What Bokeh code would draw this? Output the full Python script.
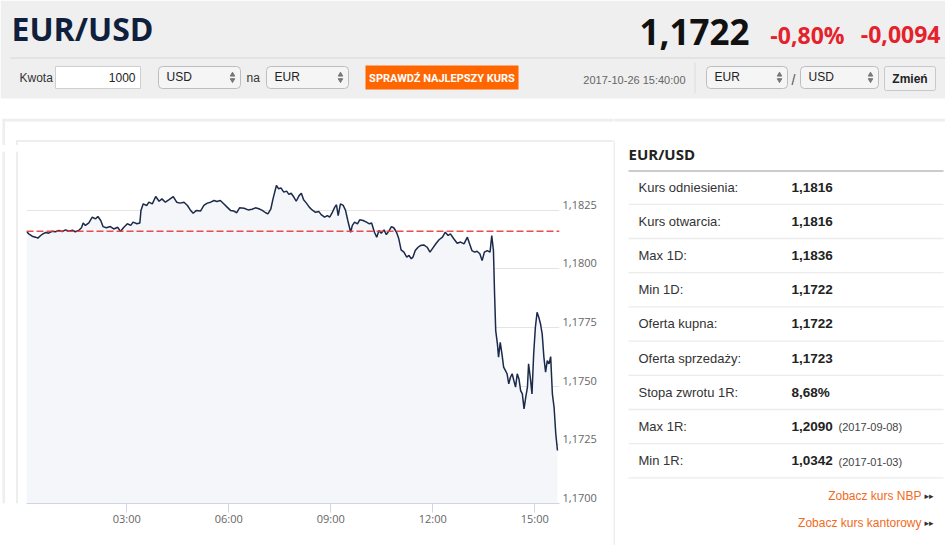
from bokeh.plotting import figure
from bokeh.layouts import column, row
from bokeh.models import Range1d, FixedTicker, CustomJSTickFormatter, Span
from bokeh.core.properties import value
from bokeh.embed import file_html
from bokeh.resources import INLINE

# ---------------- data ----------------
pair = "EUR/USD"
last_rate = "1,1722"
change_pct = "-0,80%"
change_abs = "-0,0094"
timestamp = "2017-10-26 15:40:00"

# intraday series: minutes after midnight, EUR/USD rate
minutes = [3, 7, 13, 19, 23, 28, 32, 37, 42, 48, 54, 60, 66, 72, 78, 84, 89, 95, 100, 103,
           107, 113, 119, 125, 129, 134, 138, 144, 151, 157, 164, 169, 174, 181, 187, 191, 198, 203, 205, 209,
           215, 219, 225, 231, 237, 242, 248, 254, 262, 268, 274, 281, 287, 292, 297, 303, 310, 316, 322, 328,
           334, 339, 345, 351, 357, 363, 369, 374, 379, 387, 394, 401, 407, 413, 419, 425, 429, 434, 438, 444,
           448, 452, 457, 462, 466, 470, 475, 479, 484, 488, 492, 497, 502, 507, 513, 519, 523, 529, 534, 538,
           542, 547, 550, 553, 557, 562, 566, 570, 575, 578, 582, 587, 591, 597, 603, 608, 612, 617, 621, 625,
           629, 634, 638, 643, 647, 651, 656, 660, 664, 669, 674, 678, 682, 685, 689, 694, 698, 704, 710, 715,
           719, 725, 731, 737, 742, 747, 751, 757, 763, 769, 775, 781, 785, 789, 794, 798, 803, 807, 811, 816,
           821, 824, 827, 829, 831, 834, 836, 839, 842, 845, 848, 851, 854, 857, 860, 863, 866, 869, 872, 875,
           878, 881, 884, 887, 889, 892, 895, 898, 901, 904, 907, 910, 913, 916, 919, 922, 925, 928, 931, 934,
           937, 940]
rates = [1.18159, 1.18149, 1.18139, 1.18135, 1.18131, 1.18142, 1.18149, 1.18155, 1.18152, 1.18160,
         1.18158, 1.18163, 1.18159, 1.18166, 1.18160, 1.18165, 1.18158, 1.18163, 1.18175, 1.18195,
         1.18185, 1.18196, 1.18220, 1.18213, 1.18223, 1.18206, 1.18180, 1.18175, 1.18180, 1.18170,
         1.18177, 1.18159, 1.18175, 1.18192, 1.18185, 1.18199, 1.18192, 1.18195, 1.18249, 1.18277,
         1.18270, 1.18284, 1.18277, 1.18308, 1.18288, 1.18298, 1.18284, 1.18294, 1.18308, 1.18284,
         1.18280, 1.18284, 1.18270, 1.18251, 1.18237, 1.18249, 1.18246, 1.18270, 1.18280, 1.18284,
         1.18291, 1.18287, 1.18291, 1.18277, 1.18263, 1.18249, 1.18246, 1.18239, 1.18260, 1.18258,
         1.18251, 1.18254, 1.18260, 1.18256, 1.18249, 1.18239, 1.18234, 1.18254, 1.18298, 1.18355,
         1.18341, 1.18345, 1.18327, 1.18331, 1.18317, 1.18322, 1.18305, 1.18288, 1.18312, 1.18322,
         1.18294, 1.18280, 1.18263, 1.18251, 1.18241, 1.18244, 1.18231, 1.18220, 1.18227, 1.18220,
         1.18237, 1.18263, 1.18273, 1.18227, 1.18277, 1.18270, 1.18249, 1.18206, 1.18156, 1.18185,
         1.18199, 1.18192, 1.18209, 1.18206, 1.18199, 1.18192, 1.18195, 1.18156, 1.18135, 1.18163,
         1.18152, 1.18166, 1.18146, 1.18163, 1.18180, 1.18175, 1.18156, 1.18128, 1.18081, 1.18071,
         1.18050, 1.18057, 1.18043, 1.18050, 1.18078, 1.18092, 1.18099, 1.18102, 1.18092, 1.18071,
         1.18085, 1.18106, 1.18124, 1.18135, 1.18156, 1.18142, 1.18149, 1.18128, 1.18109, 1.18114,
         1.18106, 1.18135, 1.18106, 1.18078, 1.18071, 1.18075, 1.18064, 1.18035, 1.18071, 1.18078,
         1.18071, 1.18142, 1.18078, 1.17893, 1.17737, 1.17680, 1.17624, 1.17687, 1.17638, 1.17581,
         1.17567, 1.17553, 1.17510, 1.17538, 1.17553, 1.17524, 1.17496, 1.17553, 1.17531, 1.17481,
         1.17467, 1.17403, 1.17453, 1.17496, 1.17595, 1.17538, 1.17467, 1.17638, 1.17751, 1.17815,
         1.17794, 1.17766, 1.17723, 1.17624, 1.17560, 1.17609, 1.17595, 1.17626, 1.17467, 1.17410,
         1.17297, 1.17226]
assert len(minutes) == len(rates)

reference_rate = 1.1816
grid_levels = [1.1700, 1.1725, 1.1750, 1.1775, 1.1800, 1.1825, 1.1850]
axis_label_levels = [1.1700, 1.1725, 1.1750, 1.1775, 1.1800, 1.1825]
time_ticks = [3, 6, 9, 12, 15]
time_tick_labels = ["03:00", "06:00", "09:00", "12:00", "15:00"]

stat_labels = ["Kurs odniesienia:", "Kurs otwarcia:", "Max 1D:", "Min 1D:", "Oferta kupna:",
               "Oferta sprzedaży:", "Stopa zwrotu 1R:", "Max 1R:", "Min 1R:"]
stat_values = ["1,1816", "1,1816", "1,1836", "1,1722", "1,1722", "1,1723", "8,68%", "1,2090", "1,0342"]
stat_dates = ["", "", "", "", "", "", "", "(2017-09-08)", "(2017-01-03)"]
links = ["Zobacz kurs NBP", "Zobacz kurs kantorowy"]

# ---------------- helpers ----------------
def pix_fig(x0, x1, y0, y1):
    p = figure(width=x1 - x0, height=y1 - y0, x_range=Range1d(x0, x1), y_range=Range1d(y1, y0),
               min_border=0, toolbar_location=None, output_backend="svg",
               x_axis_location=None, y_axis_location=None,
               background_fill_color="white", border_fill_color="white", outline_line_color=None)
    p.grid.visible = False
    return p


def txt(p, x, y, s, size, color="#333333", font="Liberation Sans", style="normal", align="left"):
    p.text(x=[x], y=[y], text=[s], text_font=value(font), text_font_size=f"{size}px",
           text_color=color, text_font_style=style, text_align=align, text_baseline="middle")


def select_box(p, x0, x1, label):
    p.quad(left=[x0], right=[x1], top=[66], bottom=[88], fill_color="#f5f5f5",
           line_color="#bdbdbd", border_radius=4)
    txt(p, x0 + 8, 76.5, label, 12, "#222222")
    p.scatter(x=[x1 - 8], y=[74.3], marker="triangle", size=4.5, color="#777777")
    p.scatter(x=[x1 - 8], y=[79.5], marker="inverted_triangle", size=4.5, color="#777777")

W, H = 945, 545
BORDER = "#e9e9e9"

# ---------------- header ----------------
hdr = pix_fig(0, W, 0, 118)
hdr.quad(left=[0], right=[W], top=[0], bottom=[98], fill_color="#efefef", line_color=None)
hdr.segment(x0=[10], y0=[57.5], x1=[W], y1=[57.5], line_color="#d6d6d6", line_width=1)
txt(hdr, 11, 28, pair, 32, "#0f1f3d", "Open Sans", "bold")
txt(hdr, 639, 31, last_rate, 35, "#111111", "Open Sans", "bold")
txt(hdr, 844, 34, change_pct, 23, "#e5212b", "Open Sans", "bold", align="right")
txt(hdr, 940, 34, change_abs, 23, "#e5212b", "Open Sans", "bold", align="right")

txt(hdr, 19, 77, "Kwota", 12, "#333333")
hdr.quad(left=[55], right=[140], top=[66], bottom=[88], fill_color="white", line_color="#cfcfcf")
txt(hdr, 135, 77, "1000", 12, "#222222", align="right")
select_box(hdr, 158, 240, "USD")
txt(hdr, 246, 77, "na", 12, "#333333")
select_box(hdr, 266, 348, "EUR")
hdr.quad(left=[365], right=[518], top=[65], bottom=[89], fill_color="#ff6600", line_color=None)
txt(hdr, 441.5, 77.5, "SPRAWDŹ NAJLEPSZY KURS", 11, "white", "Roboto", "bold", align="center")
txt(hdr, 685, 79, timestamp, 11, "#666666", align="right")
hdr.segment(x0=[694.5], y0=[62], x1=[694.5], y1=[93], line_color="#dcdcdc")
select_box(hdr, 706, 787, "EUR")
txt(hdr, 793, 79, "/", 14, "#555555", align="center")
select_box(hdr, 800, 878, "USD")
hdr.quad(left=[884], right=[935], top=[66], bottom=[90], fill_color="#f2f2f2",
         line_color="#c8c8c8", border_radius=2)
txt(hdr, 909.5, 78, "Zmień", 12, "#222222", style="bold", align="center")

# ---------------- strips around chart ----------------
top_strip = pix_fig(0, 613, 118, 145)
top_strip.quad(left=[2], right=[613], top=[118], bottom=[121], fill_color="#eeeeee", line_color=None)
top_strip.quad(left=[2], right=[4.5], top=[118], bottom=[145], fill_color="#eeeeee", line_color=None)
top_strip.segment(x0=[16], y0=[140.5], x1=[613], y1=[140.5], line_color=BORDER, line_width=1.5)
top_strip.segment(x0=[16.5], y0=[140], x1=[16.5], y1=[145], line_color=BORDER, line_width=1.5)

left_strip = pix_fig(0, 26, 145, H)
left_strip.quad(left=[2], right=[4.5], top=[145], bottom=[H], fill_color="#eeeeee", line_color=None)
left_strip.segment(x0=[16.5], y0=[145], x1=[16.5], y1=[H], line_color=BORDER, line_width=1.5)

# ---------------- chart ----------------
hours = [m / 60 for m in minutes]
chart = figure(width=613 - 26, height=H - 145, x_range=Range1d(0.05, 15.726), y_range=Range1d(1.1700, 1.1850),
               y_axis_location="right", x_axis_location="below",
               min_border_left=0, min_border_right=54, min_border_top=6, min_border_bottom=H - 503,
               toolbar_location=None, output_backend="svg", outline_line_color=None,
               background_fill_color="white", border_fill_color="white")
chart.xgrid.visible = False
chart.ygrid.ticker = FixedTicker(ticks=grid_levels)
chart.ygrid.grid_line_color = "#e4e4e4"
chart.ygrid.grid_line_width = 1

label_shift = 0.00023
chart.yaxis.ticker = FixedTicker(ticks=[v + label_shift for v in axis_label_levels])
chart.yaxis.formatter = CustomJSTickFormatter(args=dict(shift=label_shift),
                                              code="return (tick - shift).toFixed(4).replace('.', ',');")
chart.yaxis.axis_line_color = None
chart.yaxis.major_tick_line_color = None
chart.yaxis.minor_tick_line_color = None
chart.yaxis.major_tick_out = 0
chart.yaxis.major_tick_in = 0
chart.yaxis.major_label_standoff = 3
chart.yaxis.major_label_text_font = "Open Sans"
chart.yaxis.major_label_text_font_size = "11px"
chart.yaxis.major_label_text_color = "#666666"

chart.xaxis.ticker = FixedTicker(ticks=time_ticks)
chart.xaxis.formatter = CustomJSTickFormatter(
    args=dict(hour_values=time_ticks, hour_labels=time_tick_labels),
    code="const i = hour_values.indexOf(Math.round(tick)); return i >= 0 ? hour_labels[i] : '';")
chart.xaxis.axis_line_color = "#ccd6eb"
chart.xaxis.major_tick_line_color = "#ccd6eb"
chart.xaxis.minor_tick_line_color = None
chart.xaxis.major_tick_out = 9
chart.xaxis.major_tick_in = 0
chart.xaxis.major_label_standoff = -2
chart.xaxis.major_label_text_font = "Open Sans"
chart.xaxis.major_label_text_font_size = "11px"
chart.xaxis.major_label_text_color = "#666666"

chart.varea(x=hours, y1=[grid_levels[0]] * len(hours), y2=rates, fill_color="#f4f6f9")
chart.line(hours, rates, line_color="#1b2a4a", line_width=1.5)
chart.add_layout(Span(location=reference_rate, dimension="width", line_color="#e8383d",
                      line_dash="7 3", line_width=1.4, line_alpha=0.9))

# ---------------- side panel ----------------
side = pix_fig(613, W, 118, H)
side.quad(left=[613], right=[W], top=[118], bottom=[121], fill_color="#eeeeee", line_color=None)
side.segment(x0=[613.5], y0=[140], x1=[613.5], y1=[H], line_color=BORDER, line_width=1.5)
txt(side, 628, 153, pair, 15, "#222222", "Open Sans", "bold")
side.segment(x0=[628], y0=[170.5], x1=[943], y1=[170.5], line_color="#cccccc", line_width=2)
for i, (lab, val, dt) in enumerate(zip(stat_labels, stat_values, stat_dates)):
    yc = 186.5 + 34.2 * i
    txt(side, 638, yc, lab, 13, "#333333")
    txt(side, 791, yc, val, 13.5, "#222222", style="bold")
    if dt:
        txt(side, 838, yc + 1, dt, 11, "#444444")
    side.segment(x0=[628], y0=[yc + 17.3], x1=[943], y1=[yc + 17.3], line_color="#ececec", line_width=1.3)
for j, lk in enumerate(links):
    yc = 495 + 27.5 * j
    txt(side, 921, yc, lk, 12, "#f26a1b", align="right")
    txt(side, 928.5, yc, "▸▸", 9, "#333333", "DejaVu Sans", align="center")

layout = column(hdr, row(column(top_strip, row(left_strip, chart)), side))
open("out.html", "w").write(file_html(layout, INLINE))
